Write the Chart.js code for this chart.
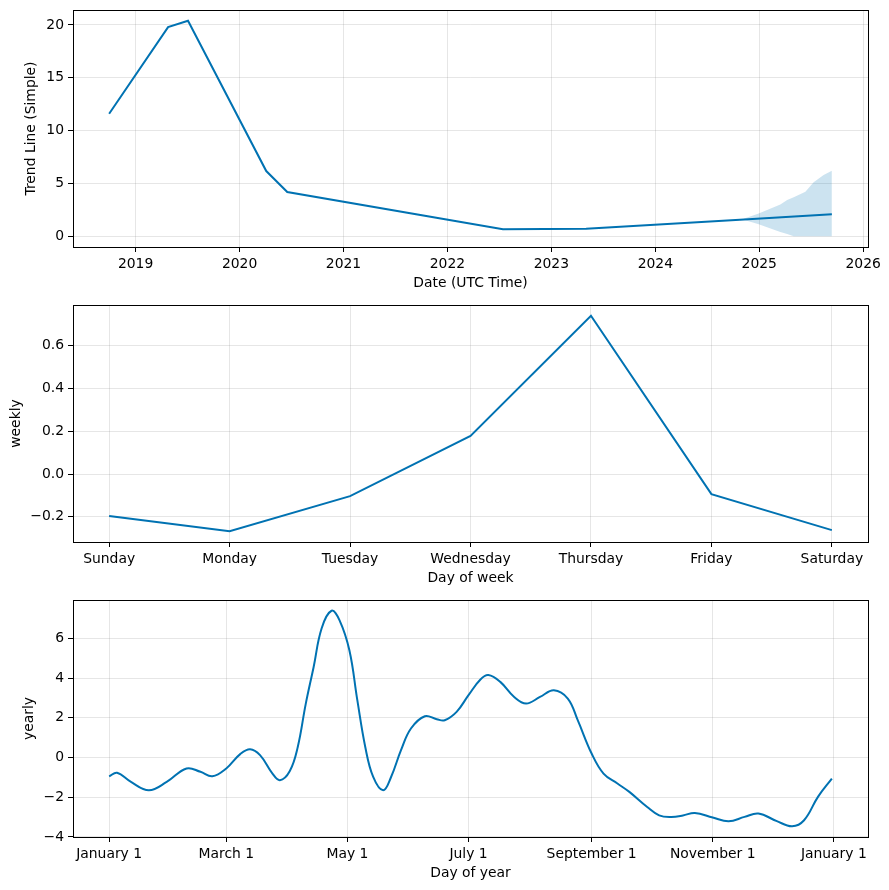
<!DOCTYPE html>
<html>
<head>
<meta charset="utf-8">
<script src="https://cdn.jsdelivr.net/npm/chart.js@4"></script>
<style>
  html, body { margin: 0; padding: 0; background: #fff; }
  #wrap { position: relative; width: 889px; height: 890px; }
  canvas { position: absolute; left: 0; }
</style>
</head>
<body>
<div id="wrap">
  <canvas id="trend" width="889" height="295" style="top:0"></canvas>
  <canvas id="weekly" width="889" height="295" style="top:295px"></canvas>
  <canvas id="yearly" width="889" height="295" style="top:590px"></canvas>
</div>
<script>
// Trend
var TREND_DATES = ['2018-09-30', '2019-04-25', '2019-07-04', '2020-04-04', '2020-06-17', '2022-07-15', '2023-05-03', '2024-10-25', '2025-09-13'];
var TREND_VALUES = [11.6, 19.8, 20.4, 6.17, 4.18, 0.66, 0.71, 1.57, 2.09];
var BAND_DATES = ['2024-11-07', '2024-12-30', '2025-03-16', '2025-04-09', '2025-05-02', '2025-06-12', '2025-07-11', '2025-08-15', '2025-09-13'];
var BAND_UPPER = [1.65, 2.16, 3.0, 3.42, 3.7, 4.21, 5.1, 5.79, 6.2];
var BAND_LOWER = [1.55, 1.14, 0.41, 0.2, 0, 0, 0, 0, 0];
var YEAR_TICKS = [2019, 2020, 2021, 2022, 2023, 2024, 2025, 2026];
var TREND_Y_TICKS = [0, 5, 10, 15, 20];

// Weekly
var DAYS = ['Sunday', 'Monday', 'Tuesday', 'Wednesday', 'Thursday', 'Friday', 'Saturday'];
var WEEKLY_VALUES = [-0.196, -0.267, -0.103, 0.178, 0.739, -0.094, -0.262];
var WEEKLY_Y_TICKS = [-0.2, 0, 0.2, 0.4, 0.6];

// Yearly
var YEARLY_DAYS = [0, 4, 11, 20, 29, 39, 46, 52, 59, 66, 71, 76, 82, 86, 91, 95, 99, 103, 107, 112, 116, 121, 125, 129, 133, 138, 142, 147, 152, 159, 165, 169, 175, 181, 187, 191, 197, 204, 210, 217, 224, 231, 236, 243, 249, 256, 262, 271, 277, 283, 289, 295, 304, 312, 320, 327, 336, 344, 350, 357, 364];
var YEARLY_VALUES = [-0.95, -0.77, -1.23, -1.65, -1.23, -0.55, -0.72, -0.94, -0.55, 0.17, 0.42, 0.12, -0.77, -1.14, -0.68, 0.53, 2.69, 4.56, 6.5, 7.39, 6.92, 5.4, 2.89, 0.53, -0.98, -1.65, -0.98, 0.37, 1.46, 2.08, 1.93, 1.88, 2.3, 3.14, 3.93, 4.15, 3.81, 3.05, 2.72, 3.05, 3.39, 2.97, 1.88, 0.2, -0.81, -1.31, -1.73, -2.49, -2.91, -2.99, -2.92, -2.79, -3.02, -3.21, -2.99, -2.82, -3.19, -3.46, -3.16, -1.98, -1.06];
var MONTH_TICKS = [0, 59, 120, 181, 243, 304, 365];
var MONTH_LABELS = ['January 1', 'March 1', 'May 1', 'July 1', 'September 1', 'November 1', 'January 1'];
var YEARLY_Y_TICKS = [-4, -2, 0, 2, 4, 6];

var BLUE = '#0072B2';
var GRID = 'rgba(128,128,128,0.2)';

Chart.defaults.font.family = '"DejaVu Sans", sans-serif';
Chart.defaults.font.size = 13.9;
Chart.defaults.color = '#000';

function decYear(s) {
  var d = new Date(s + 'T00:00:00Z'), y = d.getUTCFullYear();
  var a = Date.UTC(y, 0, 1), b = Date.UTC(y + 1, 0, 1);
  return y + (d.getTime() - a) / (b - a);
}
function pts(xs, ys) { return xs.map(function (x, i) { return { x: x, y: ys[i] }; }); }
// matplotlib-Standardrand: 5 % auf jeder Seite
function margins(vals) {
  var lo = Math.min.apply(null, vals), hi = Math.max.apply(null, vals), r = hi - lo;
  return [lo - 0.05 * r, hi + 0.05 * r];
}
function minus(s) { return String(s).replace('-', '\u2212'); }

// Rahmen um die Zeichenfläche (alle vier Spines)
var frame = {
  id: 'frame',
  afterDraw: function (c) {
    var a = c.chartArea, ctx = c.ctx;
    ctx.save();
    ctx.strokeStyle = '#000';
    ctx.lineWidth = 1;
    ctx.strokeRect(a.left + 0.5, a.top + 0.5, a.right - a.left, a.bottom - a.top);
    ctx.restore();
  }
};

function axisX(range, ticks, fmt, title) {
  return {
    type: 'linear', min: range[0], max: range[1],
    afterBuildTicks: function (s) { s.ticks = ticks.map(function (v) { return { value: v }; }); },
    afterFit: function (s) { s.height = 48; },
    grid: { color: GRID, tickColor: '#000', tickLength: 5 },
    border: { display: false },
    ticks: { autoSkip: false, maxRotation: 0, padding: 4, callback: fmt },
    title: { display: true, text: title, padding: { top: 0, bottom: 3 } }
  };
}
function axisY(range, ticks, fmt, title, pad) {
  return {
    type: 'linear', min: range[0], max: range[1],
    afterBuildTicks: function (s) { s.ticks = ticks.map(function (v) { return { value: v }; }); },
    afterFit: function (s) { s.width = 73; s.paddingTop = 0; s.paddingBottom = 0; },
    grid: { color: GRID, tickColor: '#000', tickLength: 5 },
    border: { display: false },
    ticks: { padding: 4, callback: fmt },
    title: { display: true, text: title, padding: { top: pad, bottom: 0 } }
  };
}
function baseOpts(scales) {
  return {
    responsive: false, animation: false,
    layout: { padding: { top: 10, right: 21, left: 0, bottom: 0 } },
    plugins: { legend: { display: false }, tooltip: { enabled: false } },
    elements: { point: { radius: 0 } },
    scales: scales
  };
}

// Panel 1: Trend
var trendX = TREND_DATES.map(decYear);
var bandX = BAND_DATES.map(decYear);
new Chart(document.getElementById('trend'), {
  type: 'line',
  data: {
    datasets: [
      { data: pts(trendX, TREND_VALUES), borderColor: BLUE, borderWidth: 2, fill: false },
      { data: pts(bandX, BAND_UPPER), borderWidth: 0, borderColor: 'rgba(0,114,178,0)', backgroundColor: 'rgba(0,114,178,0.2)', fill: '+1' },
      { data: pts(bandX, BAND_LOWER), borderWidth: 0, borderColor: 'rgba(0,114,178,0)', fill: false }
    ]
  },
  options: baseOpts({
    x: axisX(margins(trendX), YEAR_TICKS, function (v) { return String(v); }, 'Date (UTC Time)'),
    y: axisY(margins(TREND_VALUES.concat(BAND_UPPER, BAND_LOWER)), TREND_Y_TICKS, function (v) { return String(v); }, 'Trend Line (Simple)', 23)
  }),
  plugins: [frame]
});

// Panel 2: Wochenmuster
var dayIdx = DAYS.map(function (_, i) { return i; });
new Chart(document.getElementById('weekly'), {
  type: 'line',
  data: { datasets: [{ data: pts(dayIdx, WEEKLY_VALUES), borderColor: BLUE, borderWidth: 2, fill: false }] },
  options: baseOpts({
    x: axisX(margins(dayIdx), dayIdx, function (v) { return DAYS[v]; }, 'Day of week'),
    y: axisY(margins(WEEKLY_VALUES), WEEKLY_Y_TICKS, function (v) { return minus(v.toFixed(1)); }, 'weekly', 8)
  }),
  plugins: [frame]
});

// Panel 3: Jahresmuster
new Chart(document.getElementById('yearly'), {
  type: 'line',
  data: { datasets: [{ data: pts(YEARLY_DAYS, YEARLY_VALUES), borderColor: BLUE, borderWidth: 2, fill: false, tension: 0.4 }] },
  options: baseOpts({
    x: axisX(margins(YEARLY_DAYS), MONTH_TICKS, function (v) { return MONTH_LABELS[MONTH_TICKS.indexOf(v)]; }, 'Day of year'),
    y: axisY(margins(YEARLY_VALUES), YEARLY_Y_TICKS, function (v) { return minus(v); }, 'yearly', 21)
  }),
  plugins: [frame]
});
</script>
</body>
</html>
